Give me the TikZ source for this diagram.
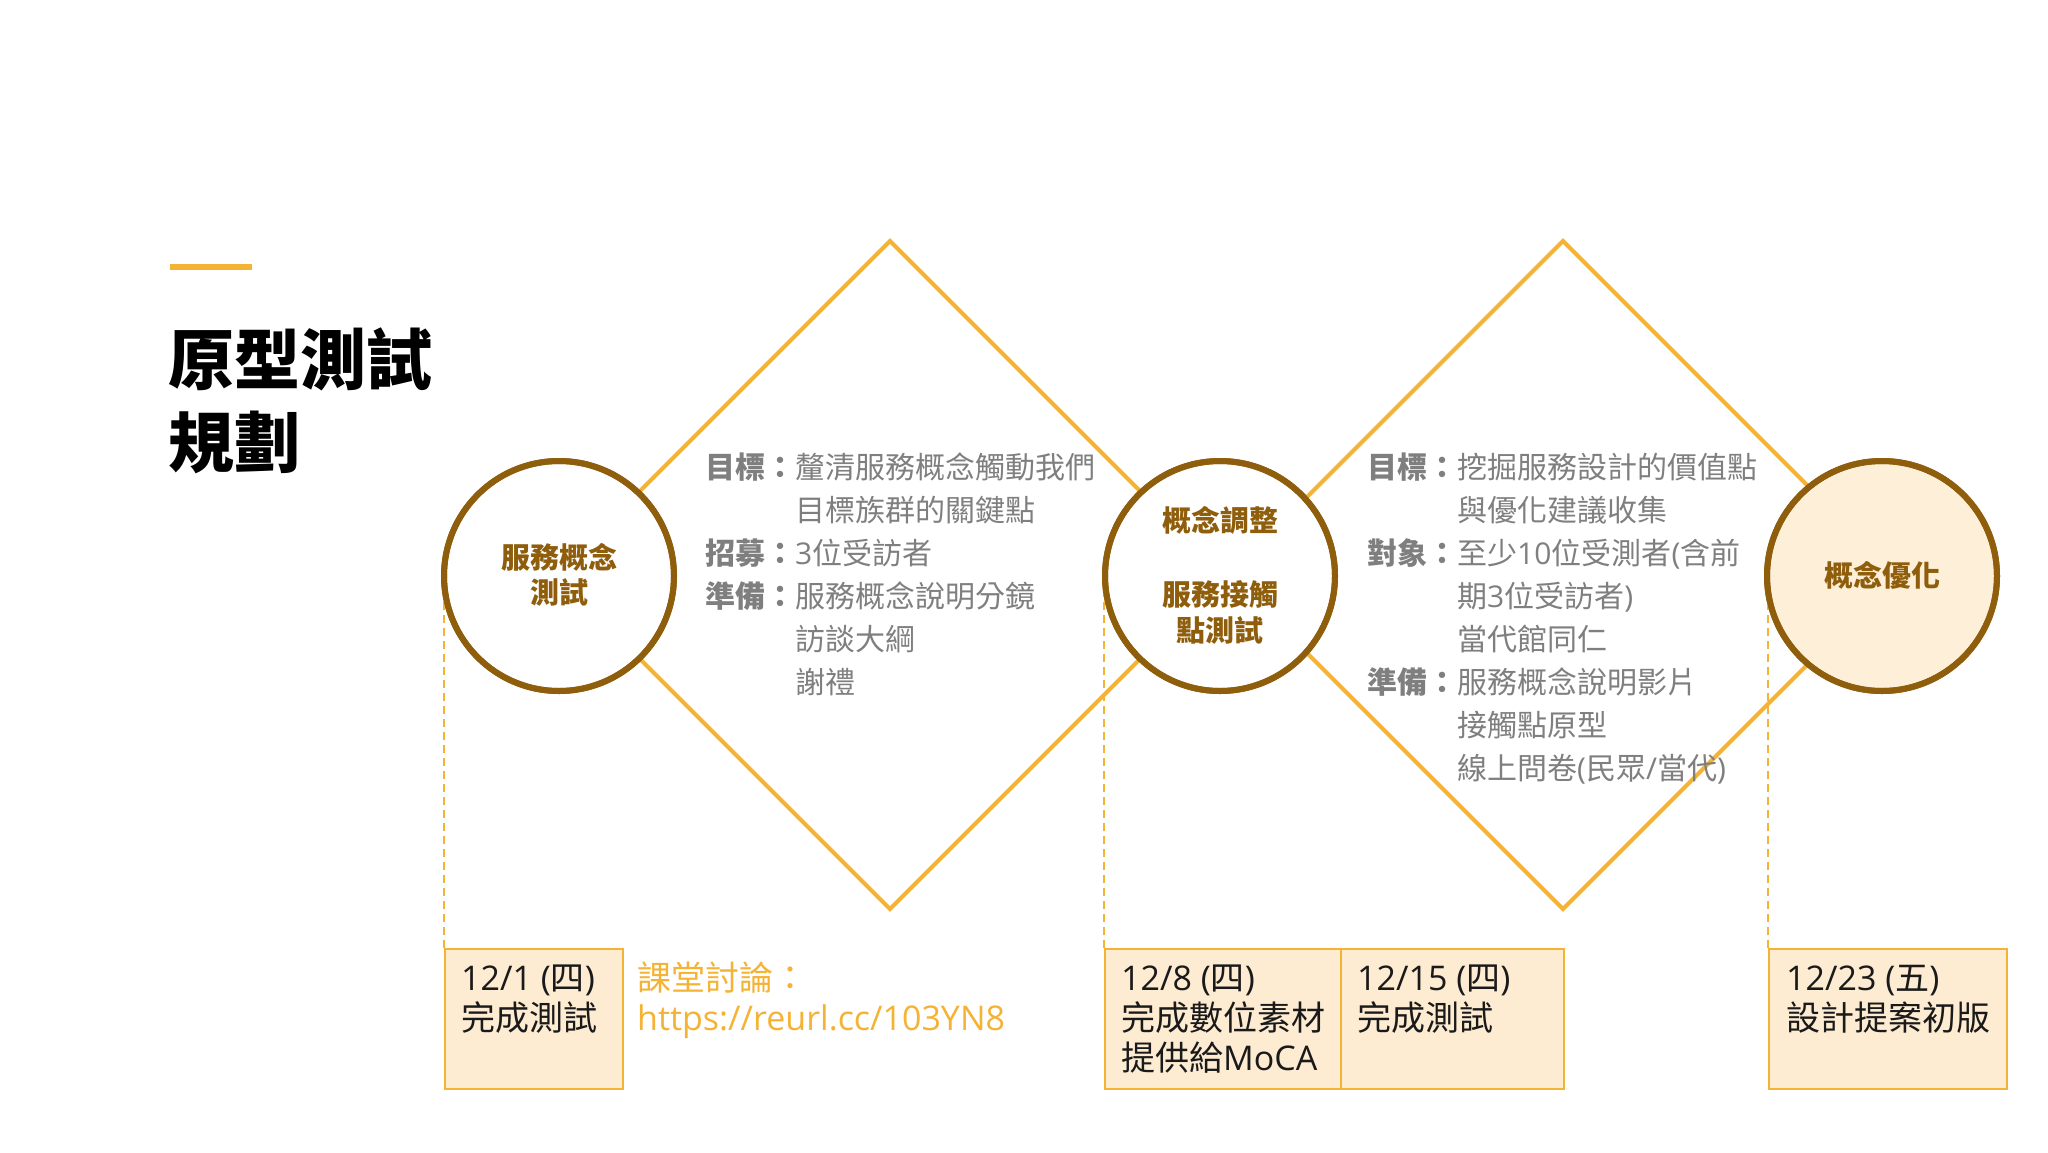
\documentclass[tikz,border=0pt]{standalone}
\usepackage{fontspec}
\setmainfont{Noto Sans CJK TC}
\newfontfamily\lat{Open Sans}
\definecolor{org}{HTML}{F5B335}
\definecolor{brn}{HTML}{8F5E0C}
\definecolor{peach}{HTML}{FDEBD2}
\definecolor{peachc}{HTML}{FDEFD8}
\definecolor{gry}{HTML}{7F7F7F}
\definecolor{ink}{HTML}{1A1A1A}
\begin{document}
\begin{tikzpicture}[x=1pt,y=-1pt,
  stage/.style={circle,draw=brn,line width=6pt,fill=white,minimum size=230pt,inner sep=0pt},
  ctext/.style={font=\fontsize{29}{35}\selectfont\bfseries,text=brn,anchor=base,inner sep=0pt},
  dtext/.style={font=\fontsize{30}{36}\selectfont,text=gry,anchor=base west,inner sep=0pt},
  datebox/.style={draw=org,line width=2pt,fill=peach,inner sep=0pt},
  btext/.style={font=\fontsize{34}{40}\selectfont,text=ink,anchor=base west,inner sep=0pt},
  ltext/.style={font=\fontsize{34}{40}\selectfont,text=org,anchor=base west,inner sep=0pt},
  diam/.style={draw=org,line width=4pt,line join=miter},
  guide/.style={draw=org,line width=2pt,dash pattern=on 8pt off 5pt},
  titletext/.style={font=\fontsize{66}{80}\selectfont\bfseries,text=black,anchor=base west,inner sep=0pt}]

\useasboundingbox (0,0) rectangle (2048,1152);
\fill[white] (0,0) rectangle (2048,1152);

% title
\fill[org] (170,264) rectangle (252,270);
\node[titletext] (title1) at (168,384) {原型測試};
\node[titletext] (title2) at (168,467) {規劃};

% diamond vertices
\coordinate (d1t) at (890,241);
\coordinate (d1r) at (1224,575);
\coordinate (d1b) at (890,909);
\coordinate (d1l) at (556,575);
\coordinate (d2t) at (1563,241);
\coordinate (d2r) at (1897,575);
\coordinate (d2b) at (1563,909);
\coordinate (d2l) at (1229,575);
\draw[diam] (d1l) -- (d1t) -- (d1r) -- (d1b) -- cycle;
\draw[diam] (d2l) -- (d2t) -- (d2r) -- (d2b) -- cycle;

% date boxes
\node[datebox,minimum width=178pt,minimum height=140pt,anchor=north west] (b1) at (444,948) {};
\node[datebox,minimum width=236pt,minimum height=140pt,anchor=north west] (b2) at (1104,948) {};
\node[datebox,minimum width=223pt,minimum height=140pt,anchor=north west] (b3) at (1340,948) {};
\node[datebox,minimum width=238pt,minimum height=140pt,anchor=north west] (b4) at (1768,948) {};

% circles
\node[stage] (c1) at (559,576) {};
\node[stage] (c2) at (1220,576) {};
\node[stage,fill=peachc] (c3) at (1882,576) {};

% dashed guides
\draw[guide] (b1.north west) -- (b1.north west |- c1.center);
\draw[guide] (b2.north west) -- (b2.north west |- c2.center);
\draw[guide] (b4.north west) -- (b4.north west |- c3.center);
\node[stage,fill=none] (c1r) at (559,576) {};
\node[stage,fill=none] (c2r) at (1220,576) {};
\node[stage,fill=none] (c3r) at (1882,576) {};

% circle texts
\node[ctext] (c1a) at (559,568) {服務概念};
\node[ctext] (c1b) at (559,603) {測試};
\node[ctext] (c2a) at (1220,531) {概念調整};
\node[ctext] (c2b) at (1220,605) {服務接觸};
\node[ctext] (c2c) at (1220,641) {點測試};
\node[ctext] (c3a) at (1882,586) {概念優化};

% diamond 1 text
\node[dtext] (t1a) at (705,478) {{\bfseries 目標：}釐清服務概念觸動我們};
\node[dtext] (t1b) at (795,521) {目標族群的關鍵點};
\node[dtext] (t1c) at (705,564) {{\bfseries 招募：}{\lat 3}位受訪者};
\node[dtext] (t1d) at (705,607) {{\bfseries 準備：}服務概念說明分鏡};
\node[dtext] (t1e) at (795,650) {訪談大綱};
\node[dtext] (t1f) at (795,693) {謝禮};

% diamond 2 text
\node[dtext] (t2a) at (1367,478) {{\bfseries 目標：}挖掘服務設計的價值點};
\node[dtext] (t2b) at (1457,521) {與優化建議收集};
\node[dtext] (t2c) at (1367,564) {{\bfseries 對象：}至少{\lat 10}位受測者{\lat (}含前};
\node[dtext] (t2d) at (1457,607) {期{\lat 3}位受訪者{\lat )}};
\node[dtext] (t2e) at (1457,650) {當代館同仁};
\node[dtext] (t2f) at (1367,693) {{\bfseries 準備：}服務概念說明影片};
\node[dtext] (t2g) at (1457,736) {接觸點原型};
\node[dtext] (t2h) at (1457,779) {線上問卷{\lat (}民眾{\lat /}當代{\lat )}};

% box texts
\node[btext] (b1a) at (461,990) {{\lat 12/1 (}四{\lat )}};
\node[btext] (b1b) at (461,1030) {完成測試};
\node[ltext] (l1) at (637,990) {課堂討論：};
\node[ltext] (l2) at (637,1030) {\lat https://reurl.cc/103YN8};
\node[btext] (b2a) at (1121,990) {{\lat 12/8 (}四{\lat )}};
\node[btext] (b2b) at (1121,1030) {完成數位素材};
\node[btext] (b2c) at (1121,1070) {提供給{\lat MoCA}};
\node[btext] (b3a) at (1357,990) {{\lat 12/15 (}四{\lat )}};
\node[btext] (b3b) at (1357,1030) {完成測試};
\node[btext] (b4a) at (1786,990) {{\lat 12/23 (}五{\lat )}};
\node[btext] (b4b) at (1786,1030) {設計提案初版};
\end{tikzpicture}
\end{document}
